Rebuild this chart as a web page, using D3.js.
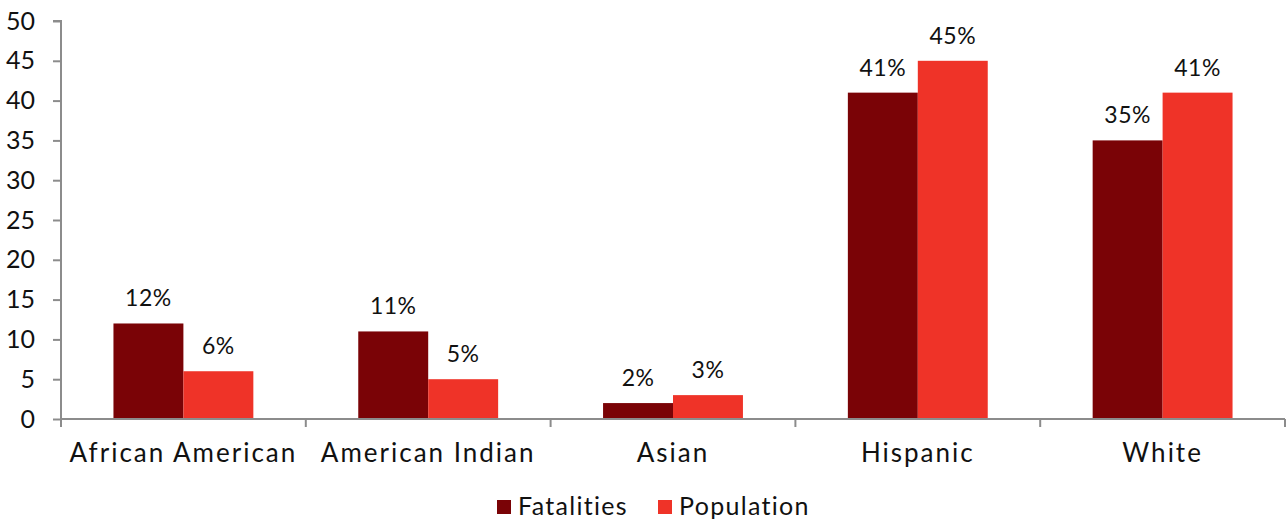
<!DOCTYPE html>
<html>
<head>
<meta charset="utf-8">
<script src="https://cdn.jsdelivr.net/npm/d3@7"></script>
<style>
  body { margin: 0; background: #fff; }
  svg { display: block; font-family: 'Century Gothic', 'URW Gothic', Lato, sans-serif; }
</style>
</head>
<body>
<svg id="chart" width="1287" height="521"></svg>
<script>
const categories = ["African American", "American Indian", "Asian", "Hispanic", "White"];
const seriesNames = ["Fatalities", "Population"];
const fatalities = [12, 11, 2, 41, 35];
const population = [6, 5, 3, 45, 41];
const yTicks = [0, 5, 10, 15, 20, 25, 30, 35, 40, 45, 50];
const colors = ["#7a0306", "#ef3328"];

const seriesValues = [fatalities, population];
const svg = d3.select("#chart");
const margin = { left: 61, right: 2, top: 21, bottom: 102 };
const W = 1287, H = 521;

const x0 = d3.scaleBand().domain(categories).range([margin.left, W - margin.right]).padding(0);
const bw = x0.bandwidth() / 3.5; // gap width 150%
const x1 = d3.scaleBand().domain(seriesNames)
  .range([bw * 0.75, x0.bandwidth() - bw * 0.75]).padding(0);
const y = d3.scaleLinear().domain([0, 50]).range([H - margin.bottom, margin.top]);

const axisColor = "#8c8c8c";

// bars with percentage labels
categories.forEach((c, i) => {
  seriesNames.forEach((s, j) => {
    const v = seriesValues[j][i];
    svg.append("rect")
      .attr("x", x0(c) + x1(s))
      .attr("y", y(v))
      .attr("width", x1.bandwidth())
      .attr("height", y(0) - y(v))
      .attr("fill", colors[j]);
    svg.append("text")
      .attr("x", x0(c) + x1(s) + x1.bandwidth() / 2)
      .attr("y", y(v) - 17)
      .attr("text-anchor", "middle")
      .attr("font-size", 23)
      .attr("letter-spacing", 0.5)
      .attr("fill", "#111")
      .text(v + "%");
  });
});

// y axis
const yAxis = d3.axisLeft(y).tickValues(yTicks).tickSize(8).tickPadding(18);
const gy = svg.append("g").attr("transform", `translate(${margin.left},0)`).call(yAxis);
gy.selectAll("path, line").attr("stroke", axisColor).attr("stroke-width", 2);
gy.select(".domain").attr("d", `M-8,${y(50)}H0V${y(0)}`);
gy.selectAll("text").attr("font-size", 25).attr("fill", "#111")
  .attr("font-family", "'Century Gothic', 'URW Gothic', Lato, sans-serif");

// x axis with tick marks at category boundaries
const gx = svg.append("g").attr("transform", `translate(0,${y(0)})`);
gx.append("line").attr("x1", margin.left).attr("x2", W - margin.right)
  .attr("stroke", axisColor).attr("stroke-width", 2);
const bounds = categories.map(c => x0(c)).concat([x0(categories[categories.length - 1]) + x0.bandwidth()]);
gx.selectAll(".tk").data(bounds).join("line")
  .attr("x1", d => d).attr("x2", d => d).attr("y1", 0).attr("y2", 8)
  .attr("stroke", axisColor).attr("stroke-width", 2);
gx.selectAll(".lbl").data(categories).join("text")
  .attr("x", d => x0(d) + x0.bandwidth() / 2)
  .attr("y", 43)
  .attr("text-anchor", "middle")
  .attr("font-size", 26)
  .attr("letter-spacing", 2)
  .attr("fill", "#111")
  .text(d => d);

// legend
const legend = svg.append("g").attr("transform", `translate(497,507)`);
const items = [{ name: seriesNames[0], x: 0 }, { name: seriesNames[1], x: 161 }];
items.forEach((it, i) => {
  legend.append("rect").attr("x", it.x).attr("y", -7).attr("width", 14).attr("height", 14).attr("fill", colors[i]);
  legend.append("text").attr("x", it.x + 21).attr("y", 8).attr("font-size", 25)
    .attr("letter-spacing", 1.3).attr("fill", "#111").text(it.name);
});
</script>
</body>
</html>
